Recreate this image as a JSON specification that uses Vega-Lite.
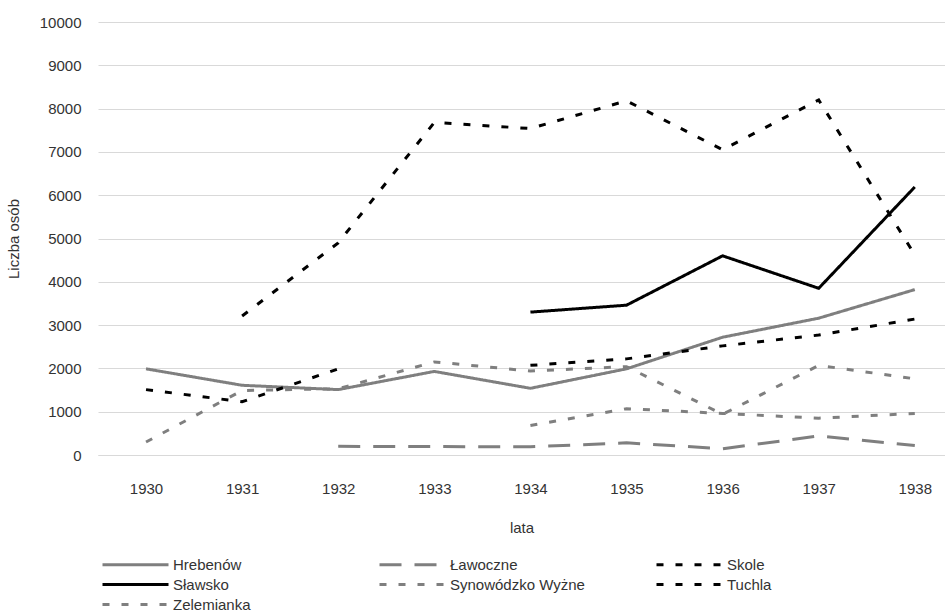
{
  "$schema": "https://vega.github.io/schema/vega-lite/v6.json",
  "autosize": {"type": "none"},
  "padding": {"left": 98, "top": 22, "right": 0, "bottom": 155},
  "width": 847,
  "height": 433,
  "background": "white",
  "config": {
    "font": "Liberation Sans",
    "view": {"stroke": null},
    "axis": {"labelFont": "Liberation Sans", "titleFont": "Liberation Sans", "labelFontSize": 15, "titleFontSize": 15, "labelColor": "#333333", "titleColor": "#333333", "titleFontWeight": "normal"},
    "legend": {"labelFont": "Liberation Sans", "labelFontSize": 15, "labelColor": "#333333"}
  },
  "data": {
    "values": [
      {"year": "1930", "place": "Hrebenów", "value": 1990},
      {"year": "1931", "place": "Hrebenów", "value": 1610},
      {"year": "1932", "place": "Hrebenów", "value": 1510},
      {"year": "1933", "place": "Hrebenów", "value": 1930},
      {"year": "1934", "place": "Hrebenów", "value": 1540},
      {"year": "1935", "place": "Hrebenów", "value": 1990},
      {"year": "1936", "place": "Hrebenów", "value": 2720},
      {"year": "1937", "place": "Hrebenów", "value": 3160},
      {"year": "1938", "place": "Hrebenów", "value": 3820},
      {"year": "1932", "place": "Ławoczne", "value": 200},
      {"year": "1933", "place": "Ławoczne", "value": 195},
      {"year": "1934", "place": "Ławoczne", "value": 190},
      {"year": "1935", "place": "Ławoczne", "value": 280},
      {"year": "1936", "place": "Ławoczne", "value": 145},
      {"year": "1937", "place": "Ławoczne", "value": 440},
      {"year": "1938", "place": "Ławoczne", "value": 220},
      {"year": "1931", "place": "Skole", "value": 3210},
      {"year": "1932", "place": "Skole", "value": 4900},
      {"year": "1933", "place": "Skole", "value": 7680},
      {"year": "1934", "place": "Skole", "value": 7540},
      {"year": "1935", "place": "Skole", "value": 8180},
      {"year": "1936", "place": "Skole", "value": 7050},
      {"year": "1937", "place": "Skole", "value": 8200},
      {"year": "1938", "place": "Skole", "value": 4620},
      {"year": "1934", "place": "Sławsko", "value": 3300},
      {"year": "1935", "place": "Sławsko", "value": 3460},
      {"year": "1936", "place": "Sławsko", "value": 4600},
      {"year": "1937", "place": "Sławsko", "value": 3850},
      {"year": "1938", "place": "Sławsko", "value": 6190},
      {"year": "1930", "place": "Synowódzko Wyżne", "value": 300},
      {"year": "1931", "place": "Synowódzko Wyżne", "value": 1490},
      {"year": "1932", "place": "Synowódzko Wyżne", "value": 1530},
      {"year": "1933", "place": "Synowódzko Wyżne", "value": 2150},
      {"year": "1934", "place": "Synowódzko Wyżne", "value": 1940},
      {"year": "1935", "place": "Synowódzko Wyżne", "value": 2040},
      {"year": "1936", "place": "Synowódzko Wyżne", "value": 940},
      {"year": "1937", "place": "Synowódzko Wyżne", "value": 2070},
      {"year": "1938", "place": "Synowódzko Wyżne", "value": 1760},
      {"year": "1930", "place": "Tuchla", "value": 1510},
      {"year": "1931", "place": "Tuchla", "value": 1230},
      {"year": "1932", "place": "Tuchla", "value": 1990},
      {"year": "1933", "place": "Tuchla", "value": null},
      {"year": "1934", "place": "Tuchla", "value": 2070},
      {"year": "1935", "place": "Tuchla", "value": 2220},
      {"year": "1936", "place": "Tuchla", "value": 2520},
      {"year": "1937", "place": "Tuchla", "value": 2770},
      {"year": "1938", "place": "Tuchla", "value": 3140},
      {"year": "1934", "place": "Zelemianka", "value": 680},
      {"year": "1935", "place": "Zelemianka", "value": 1070},
      {"year": "1936", "place": "Zelemianka", "value": 960},
      {"year": "1937", "place": "Zelemianka", "value": 850},
      {"year": "1938", "place": "Zelemianka", "value": 960}
    ]
  },
  "mark": {"type": "line", "strokeWidth": 3, "strokeCap": "butt", "invalid": "break-paths-filter-domains"},
  "encoding": {
    "x": {
      "field": "year", "type": "ordinal",
      "scale": {"type": "point", "padding": 0.407, "align": 0.614},
      "axis": {"title": "lata", "labelAngle": 0, "ticks": false, "tickSize": 0, "labelPadding": 26, "domainColor": "#d9d9d9", "domainWidth": 1, "titlePadding": 24, "grid": false}
    },
    "y": {
      "field": "value", "type": "quantitative",
      "scale": {"domain": [0, 10000], "nice": false},
      "axis": {"title": "Liczba osób", "values": [0,1000,2000,3000,4000,5000,6000,7000,8000,9000,10000], "format": "d", "ticks": false, "tickSize": 0, "domain": false, "labelPadding": 17, "gridColor": "#d9d9d9", "gridWidth": 1, "titlePadding": 18}
    },
    "color": {
      "field": "place", "type": "nominal",
      "scale": {
        "domain": ["Hrebenów", "Ławoczne", "Skole", "Sławsko", "Synowódzko Wyżne", "Tuchla", "Zelemianka"],
        "range": ["#7f7f7f", "#7f7f7f", "#000000", "#000000", "#7f7f7f", "#000000", "#7f7f7f"]
      },
      "legend": {"title": null, "orient": "none", "legendX": 3, "legendY": 531, "direction": "horizontal", "columns": 3, "gridAlign": "all", "columnPadding": 65, "rowPadding": -1, "symbolType": "M-1,0H5.6", "symbolSize": 400, "symbolStrokeWidth": 3, "labelOffset": 49}
    },
    "strokeDash": {
      "field": "place", "type": "nominal",
      "scale": {
        "domain": ["Hrebenów", "Ławoczne", "Skole", "Sławsko", "Synowódzko Wyżne", "Tuchla", "Zelemianka"],
        "range": [[1, 0], [22, 13], [7, 12], [1, 0], [7, 12], [7, 12], [7, 12]]
      },
      "legend": {"title": null, "orient": "none", "legendX": 3, "legendY": 531, "direction": "horizontal", "columns": 3, "gridAlign": "all", "columnPadding": 65, "rowPadding": -1, "symbolType": "M-1,0H5.6", "symbolSize": 400, "symbolStrokeWidth": 3, "labelOffset": 49}
    }
  }
}
